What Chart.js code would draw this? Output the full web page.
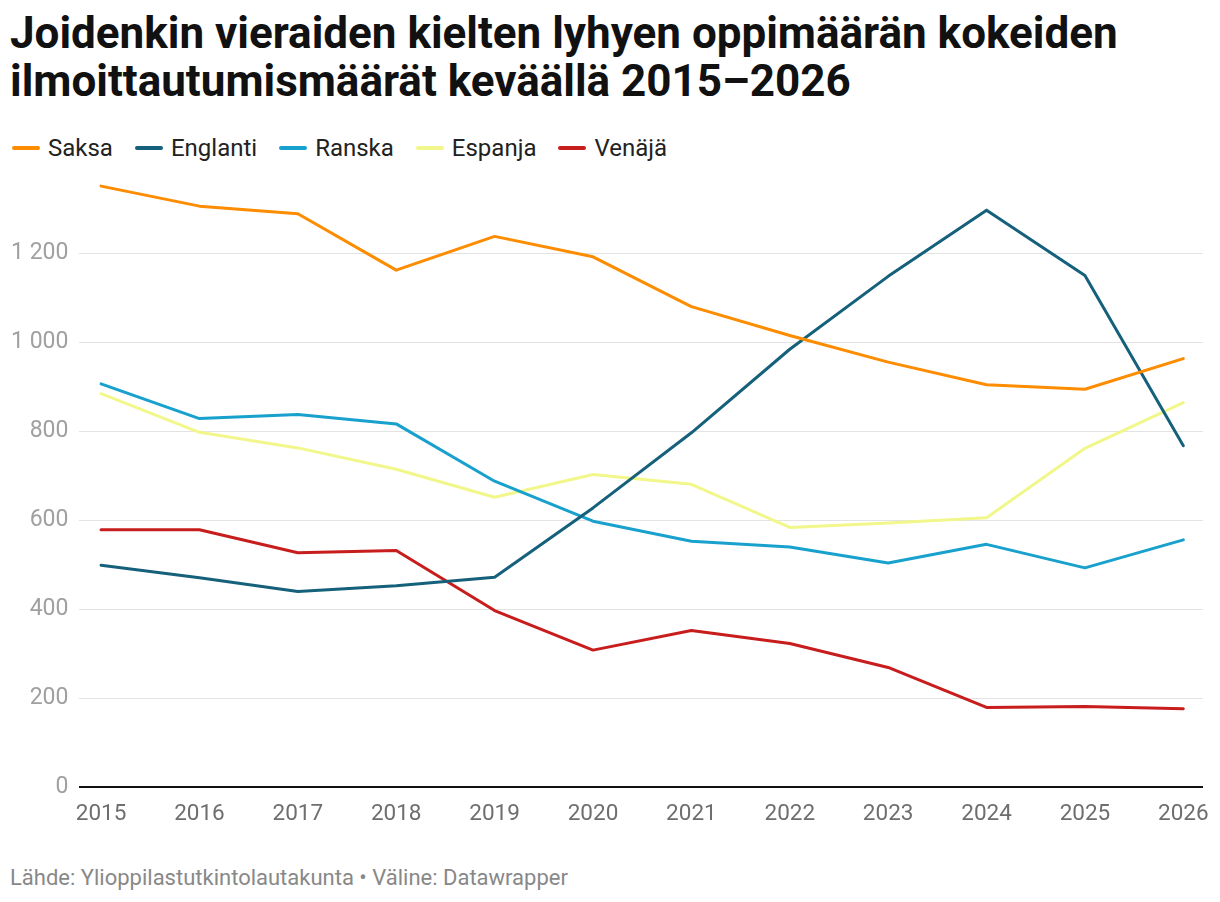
<!DOCTYPE html>
<html>
<head>
<meta charset="utf-8">
<script src="https://cdn.jsdelivr.net/npm/chart.js@4"></script>
<style>
  body { margin: 0; background: #fff; font-family: Roboto, sans-serif; width: 1220px; height: 902px; position: relative; overflow: hidden; }
  #title { position: absolute; left: 10px; top: 9px; font-weight: 700; font-size: 44px; line-height: 48px; color: #111; white-space: nowrap; }
  #legend { position: absolute; left: 12px; top: 134px; font-size: 24px; line-height: 28px; color: #222; display: flex; }
  #legend span.item { display: flex; align-items: center; margin-right: 22px; }
  #legend span.sw { display: inline-block; width: 28px; height: 4px; border-radius: 2px; margin-right: 8px; }
  #wrap { position: absolute; left: 0; top: 140px; width: 1220px; height: 694px; }
  #footer { position: absolute; left: 10px; top: 865px; font-size: 22px; line-height: 26px; color: #888; }
</style>
</head>
<body>
<div id="title">Joidenkin vieraiden kielten lyhyen oppimäärän kokeiden<br>ilmoittautumismäärät keväällä 2015–2026</div>
<div id="legend"></div>
<div id="wrap"><canvas id="chart"></canvas></div>
<div id="footer">Lähde: Ylioppilastutkintolautakunta • Väline: Datawrapper</div>
<script>
const years = [2015, 2016, 2017, 2018, 2019, 2020, 2021, 2022, 2023, 2024, 2025, 2026];
const saksa    = [1352, 1307, 1290, 1163, 1239, 1193, 1081, 1016, 956, 905, 895, 964];
const englanti = [499, 471, 440, 453, 472, 628, 797, 985, 1149, 1298, 1151, 768];
const ranska   = [907, 829, 838, 817, 688, 598, 553, 540, 504, 546, 493, 556];
const espanja  = [885, 798, 763, 715, 652, 703, 681, 584, 594, 606, 762, 865];
const venaja   = [579, 579, 527, 532, 397, 308, 352, 323, 269, 179, 181, 176];
const yTicks = [0, 200, 400, 600, 800, 1000, 1200];

const series = [
  { label: "Saksa", data: saksa, color: "#fd8c00" },
  { label: "Englanti", data: englanti, color: "#15607a" },
  { label: "Ranska", data: ranska, color: "#18a1cd" },
  { label: "Espanja", data: espanja, color: "#f1f78a" },
  { label: "Venäjä", data: venaja, color: "#c71e1d" }
];

let legend = document.getElementById('legend');
series.forEach(s => {
  legend.innerHTML += '<span class="item"><span class="sw" style="background:' + s.color + '"></span>' + s.label + '</span>';
});

function fmt(v) {
  return String(v).replace(/\B(?=(\d{3})+(?!\d))/g, ' ');
}

let ctx = document.getElementById('chart').getContext('2d');
let myChart = new Chart(ctx, {
  type: 'line',
  data: {
    datasets: series.map(s => ({
      label: s.label,
      data: years.map((y, i) => ({ x: y, y: s.data[i] })),
      borderColor: s.color,
      borderWidth: 3,
      pointRadius: 0,
      tension: 0,
      fill: false,
      borderJoinStyle: 'round',
      borderCapStyle: 'round'
    }))
  },
  options: {
    responsive: true,
    maintainAspectRatio: false,
    animation: false,
    events: [],
    layout: {
      padding: { left: 0, right: 17, top: 4, bottom: 0 }
    },
    scales: {
      x: {
        type: 'linear',
        min: 2014.78,
        max: 2026.2,
        afterBuildTicks: axis => { axis.ticks = years.map(v => ({ value: v })); },
        grid: { display: false },
        border: { display: false },
        ticks: {
          callback: v => String(v),
          color: '#6e6e6e',
          font: { family: 'Roboto', size: 22.5 },
          padding: 6,
          maxRotation: 0,
          autoSkip: false
        }
      },
      y: {
        min: 0,
        max: 1400,
        afterBuildTicks: axis => { axis.ticks = yTicks.map(v => ({ value: v })); },
        grid: {
          drawTicks: false,
          color: c => c.tick && c.tick.value === 0 ? '#111' : '#e3e3e3',
          lineWidth: c => c.tick && c.tick.value === 0 ? 2 : 1
        },
        border: { display: false },
        ticks: {
          callback: v => fmt(v),
          color: '#a0a0a0',
          font: { family: 'Roboto', size: 23 },
          padding: 11
        }
      }
    },
    plugins: {
      legend: { display: false },
      tooltip: { enabled: false }
    }
  }
});
</script>
</body>
</html>
